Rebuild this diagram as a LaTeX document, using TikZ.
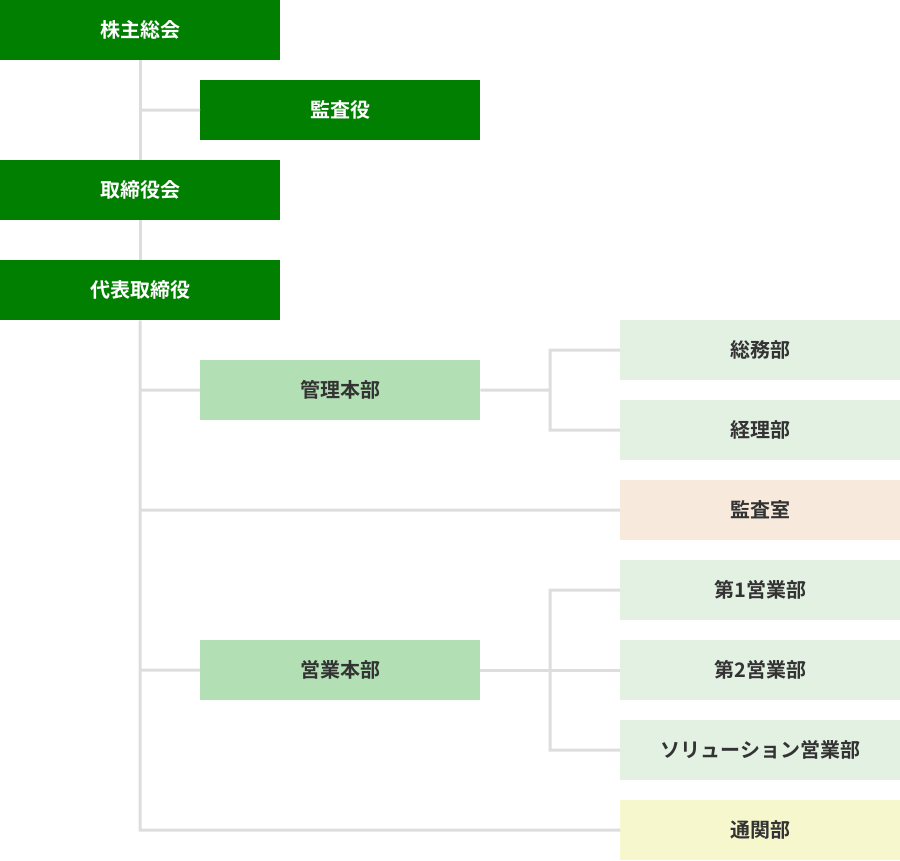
\documentclass[tikz,border=0pt]{standalone}
\usepackage{fontspec}
\setmainfont{Noto Sans CJK JP Bold}
\definecolor{dg}{HTML}{007F00}
\definecolor{mg}{HTML}{B3DFB5}
\definecolor{lg}{HTML}{E3F1E3}
\definecolor{bg}{HTML}{F7EADC}
\definecolor{yg}{HTML}{F6F7CC}
\definecolor{ln}{HTML}{DDDDDD}
\definecolor{tx}{HTML}{333333}
\begin{document}
\begin{tikzpicture}[x=1pt,y=-1pt,
  box/.style={minimum width=280pt,minimum height=60pt,inner sep=0pt,font=\fontsize{20}{24}\selectfont,anchor=north west},
  top/.style={box,fill=dg,text=white},
  mid/.style={box,fill=mg,text=tx},
  sub/.style={box,fill=lg,text=tx},
  conn/.style={draw=ln,line width=3pt}]
\useasboundingbox (0,0) rectangle (900,860);
\node[top] (a) at (0,0) {株主総会};
\node[top] (b) at (200,80) {監査役};
\node[top] (c) at (0,160) {取締役会};
\node[top] (d) at (0,260) {代表取締役};
\node[mid] (k) at (200,360) {管理本部};
\node[sub] (s1) at (620,320) {総務部};
\node[sub] (s2) at (620,400) {経理部};
\node[box,fill=bg,text=tx] (s3) at (620,480) {監査室};
\node[mid] (e) at (200,640) {営業本部};
\node[sub] (e1) at (620,560) {第1営業部};
\node[sub] (e2) at (620,640) {第2営業部};
\node[sub] (e3) at (620,720) {ソリューション営業部};
\node[box,fill=yg,text=tx] (t) at (620,800) {通関部};
\coordinate (end) at (140,830);
\begin{scope}[on background layer/.style={}]
\end{scope}
\draw[conn] (a.south) -- (c.north);
\draw[conn] (c.south) -- (d.north);
\draw[conn] (d.south) -- (end) -- (t.west);
\draw[conn] (140,110) -- (b.west);
\draw[conn] (140,390) -- (k.west);
\draw[conn] (140,510) -- (s3.west);
\draw[conn] (140,670) -- (e.west);
\draw[conn] (k.east) -- (550,390);
\draw[conn] (s1.west) -- (550,350) -- (550,430) -- (s2.west);
\draw[conn] (e.east) -- (e2.west);
\draw[conn] (e1.west) -- (550,590) -- (550,750) -- (e3.west);
\end{tikzpicture}
\end{document}
